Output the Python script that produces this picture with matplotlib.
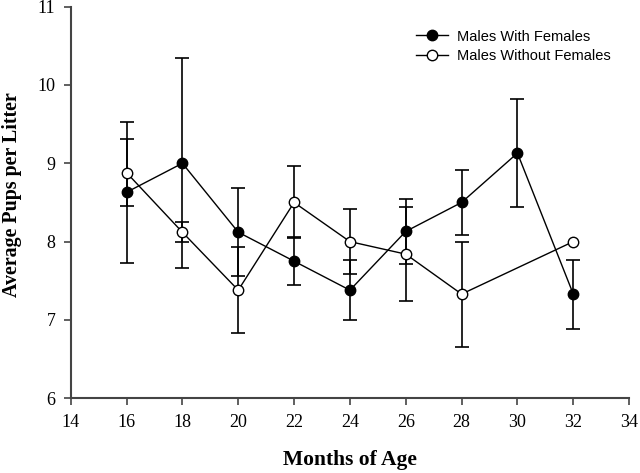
import matplotlib.pyplot as plt
from matplotlib.lines import Line2D
import numpy as np

months = [16, 18, 20, 22, 24, 26, 28, 30, 32]
with_f = [8.63, 9.0, 8.12, 7.75, 7.38, 8.13, 8.5, 9.13, 7.33]
with_f_err = [0.9, 1.34, 0.56, 0.31, 0.38, 0.42, 0.42, 0.69, 0.44]

months_wo = [16, 18, 20, 22, 24, 26, 28, 32]
without_f = [8.88, 8.12, 7.38, 8.5, 8.0, 7.84, 7.33, 8.0]
without_f_err = [0.43, 0.13, 0.55, 0.46, 0.41, 0.6, 0.67, np.nan]  # no bar at 32

plt.rcParams['font.family'] = 'Liberation Serif'

fig = plt.figure(figsize=(6.4, 4.73), dpi=100)
ax = fig.add_axes([0.1105, 0.158, 0.8725, 0.828])

ax.errorbar(months, with_f, yerr=with_f_err, fmt='-o', color='black',
            mfc='black', mec='black', ms=7.5, lw=1, elinewidth=1.2,
            capsize=5, capthick=1.2, zorder=3)
ax.errorbar(months_wo, without_f, yerr=without_f_err, fmt='-o', color='black',
            mfc='white', mec='black', ms=7.5, lw=1, elinewidth=1.2,
            capsize=5, capthick=1.2, zorder=4)

ax.set_xlim(14, 34)
ax.set_ylim(6, 11)
ax.set_xticks(np.arange(14, 35, 2))
ax.set_yticks(np.arange(6, 12, 1))
ax.spines['top'].set_visible(False)
ax.spines['right'].set_visible(False)
for s in ['left', 'bottom']:
    ax.spines[s].set_color('#444444')
    ax.spines[s].set_linewidth(1.5)
ax.tick_params(direction='out', length=5, width=1.2, color='#444444', labelsize=13, pad=6)

ax.set_xlabel('Months of Age', fontsize=15.5, fontweight='bold', labelpad=14)
ax.set_ylabel('Average Pups per Litter', fontsize=14.4, fontweight='bold')
ax.yaxis.set_label_coords(-0.088, 0.52)

handles = [Line2D([], [], color='black', marker='o', mfc='black', mec='black', ms=7.5, lw=1),
           Line2D([], [], color='black', marker='o', mfc='white', mec='black', ms=7.5, lw=1)]
ax.legend(handles, ['Males With Females', 'Males Without Females'],
          loc='upper right', bbox_to_anchor=(0.99, 0.975), frameon=False,
          prop={'family': 'Liberation Sans', 'size': 10.5}, handlelength=2.2,
          handletextpad=0.6, labelspacing=0.35)

fig.savefig('out.png', dpi=100)
